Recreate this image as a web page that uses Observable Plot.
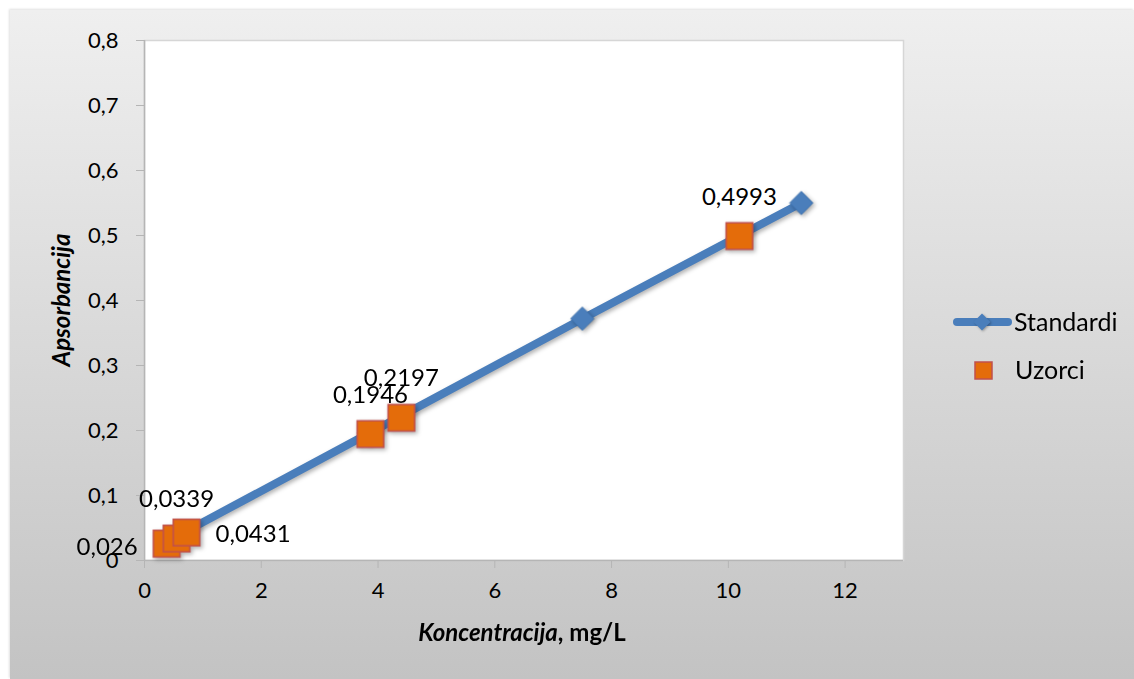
<!DOCTYPE html>
<html>
<head>
<meta charset="utf-8">
<script src="https://cdn.jsdelivr.net/npm/d3@7"></script>
<script src="https://cdn.jsdelivr.net/npm/@observablehq/plot@0.6"></script>
<style>
  body { margin: 0; background: #ffffff; }
  #wrap { position: relative; width: 1134px; height: 679px; overflow: hidden; }
  #bg { position: absolute; left: 10px; top: 10px; width: 1124px; height: 669px;
        background: linear-gradient(to bottom, #efefef, #c3c3c3);
        box-shadow: -1px -1px 2px rgba(0,0,0,0.12); }
  #chart { position: absolute; left: 0; top: 0; }
</style>
</head>
<body>
<div id="wrap"><div id="bg"></div><div id="chart"></div></div>
<script>
// ---- data ----
const xTicks = [0, 2, 4, 6, 8, 10, 12];
const yTicks = [0, 0.1, 0.2, 0.3, 0.4, 0.5, 0.6, 0.7, 0.8];
const seriesNames = ["Standardi", "Uzorci"];
const stdX = [0.4, 3.85, 7.5, 11.25];
const stdY = [0.03, 0.196, 0.372, 0.55];
const smpX = [0.38, 0.55, 0.72, 3.87, 4.4, 10.19];
const smpY = [0.026, 0.0339, 0.0431, 0.1946, 0.2197, 0.4993];
const smpLabels = ["0,026", "0,0339", "0,0431", "0,1946", "0,2197", "0,4993"];
const xTitle = "Koncentracija";
const xUnit = ", mg/L";
const yTitle = "Apsorbancija";

const standards = stdX.map((x, i) => ({x, y: stdY[i]}));
const samples = smpX.map((x, i) => ({x, y: smpY[i], label: smpLabels[i], i}));
const fmt = d => String(+d.toFixed(2)).replace(".", ",");

const blue = "#4a7ebb", orange = "#e46c0a", red = "#c0504d";
const font = "Lato, 'Open Sans', sans-serif";

const chart = Plot.plot({
  width: 1134, height: 679,
  marginLeft: 144, marginRight: 231, marginTop: 40, marginBottom: 119,
  style: { background: "transparent", fontFamily: font, fontSize: "22px", color: "#000", overflow: "visible" },
  x: { domain: [0, 13] },
  y: { domain: [0, 0.8] },
  marks: [
    Plot.frame({ fill: "white", stroke: "#d6d6d6", strokeWidth: 1.5 }),
    Plot.axisX({ ticks: xTicks, tickFormat: fmt, tickSize: 8, tickPadding: 14, stroke: "#b5b5b5", fill: "#000", fontSize: 22, label: null }),
    Plot.axisY({ ticks: yTicks, tickFormat: fmt, tickSize: 8, tickPadding: 18, stroke: "#b5b5b5", fill: "#000", fontSize: 22, label: null }),
    Plot.ruleY([0], { stroke: "#b5b5b5", strokeWidth: 1.5 }),
    Plot.ruleX([0], { stroke: "#b5b5b5", strokeWidth: 1.5 }),
    Plot.line(standards, { x: "x", y: "y", stroke: blue, strokeWidth: 8, strokeLinecap: "round" }),
    Plot.dot(standards, { x: "x", y: "y", symbol: "diamond2", r: 10.5, fill: blue, stroke: "#3f72ae", strokeWidth: 1 }),
    Plot.dot(samples, { x: "x", y: "y", symbol: "square", r: 15, fill: orange, stroke: red, strokeWidth: 1.5 }),
    Plot.text(samples.filter(d => [1, 3, 4, 5].includes(d.i)), { x: "x", y: "y", text: "label", dy: -39, fontSize: 24, fill: "#000" }),
    Plot.text(samples.filter(d => d.i === 0), { x: "x", y: "y", text: "label", dx: -29, dy: 4, textAnchor: "end", fontSize: 24, fill: "#000" }),
    Plot.text(samples.filter(d => d.i === 2), { x: "x", y: "y", text: "label", dx: 29, dy: 2, textAnchor: "start", fontSize: 24, fill: "#000" })
  ]
});

const svg = d3.select(chart);
// subtle marker shadows
svg.selectAll("g[aria-label='line'], g[aria-label='dot']")
  .style("filter", "drop-shadow(2px 2px 2px rgba(0,0,0,0.3))");

// axis titles
svg.append("text")
  .attr("transform", "translate(70,300) rotate(-90)")
  .attr("text-anchor", "middle")
  .attr("font-family", font).attr("font-size", 24)
  .attr("font-weight", "bold").attr("font-style", "italic")
  .text(yTitle);
const xt = svg.append("text")
  .attr("x", 522).attr("y", 641)
  .attr("text-anchor", "middle")
  .attr("font-family", font).attr("font-size", 24).attr("font-weight", "bold");
xt.append("tspan").attr("font-style", "italic").text(xTitle);
xt.append("tspan").text(xUnit);

// legend
const lg = svg.append("g").attr("font-family", font).attr("font-size", 25).attr("text-anchor", "start");
lg.append("line").attr("x1", 957).attr("x2", 1008).attr("y1", 322).attr("y2", 322)
  .attr("stroke", blue).attr("stroke-width", 8).attr("stroke-linecap", "round");
lg.append("path").attr("d", d3.symbol(d3.symbolDiamond2, 184)()).attr("transform", "translate(982,322)")
  .attr("fill", blue).style("filter", "drop-shadow(1px 1px 1px rgba(0,0,0,0.3))");
lg.append("text").attr("x", 1014).attr("y", 322).attr("dy", "0.35em").attr("text-anchor", "start").text(seriesNames[0]);
lg.append("rect").attr("x", 975).attr("y", 362).attr("width", 17).attr("height", 17)
  .attr("fill", orange).attr("stroke", red).attr("stroke-width", 1.5);
lg.append("text").attr("x", 1015).attr("y", 370).attr("dy", "0.35em").attr("text-anchor", "start").text(seriesNames[1]);

document.getElementById("chart").appendChild(chart);
</script>
</body>
</html>
